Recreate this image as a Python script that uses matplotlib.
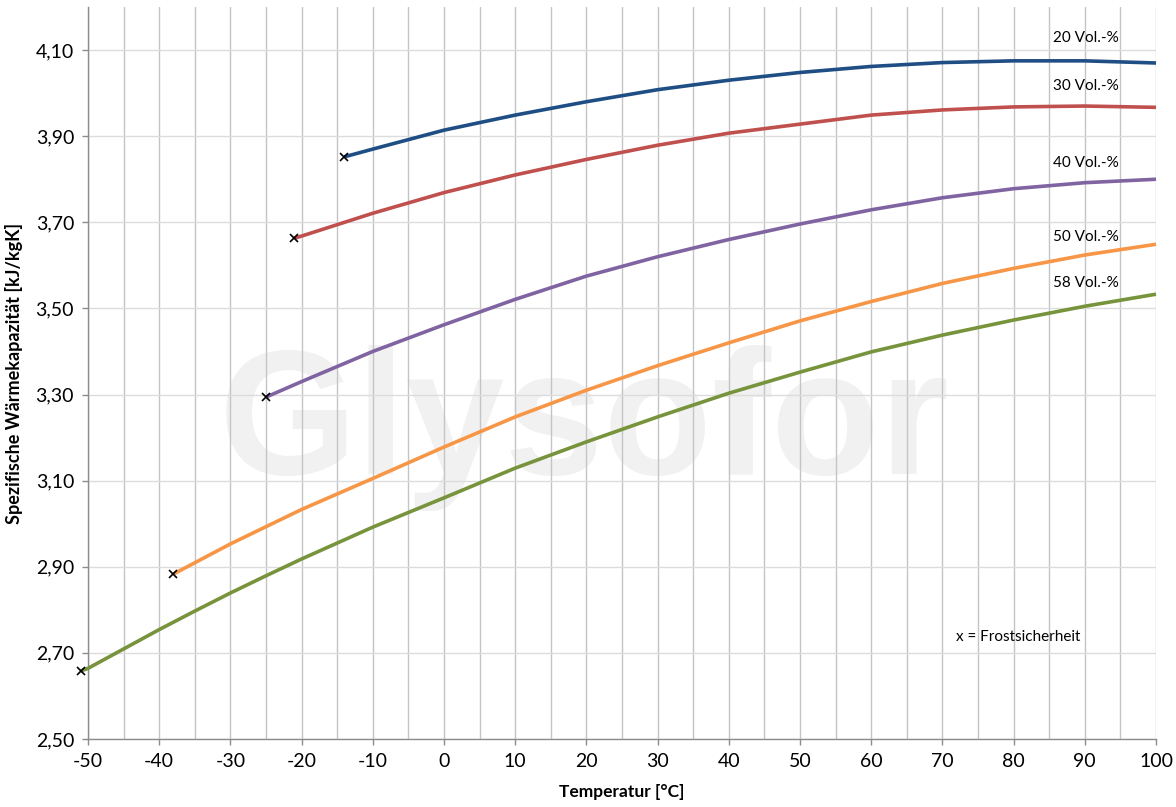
import matplotlib
matplotlib.use('Agg')
import matplotlib.pyplot as plt
from matplotlib.ticker import MultipleLocator, FixedLocator, FuncFormatter


#series (temperature in degC, cp in kJ/kgK)
temps_20 = [-14, -10, 0, 10, 20, 30, 40, 50, 60, 70, 80, 90, 100]
cp_20 = [3.852, 3.870, 3.914, 3.949, 3.980, 4.008, 4.030, 4.048, 4.062, 4.071, 4.075, 4.075, 4.070]

temps_30 = [-21, -20, -10, 0, 10, 20, 30, 40, 50, 60, 70, 80, 90, 100]
cp_30 = [3.663, 3.668, 3.721, 3.769, 3.810, 3.846, 3.879, 3.907, 3.928, 3.949, 3.961, 3.968, 3.970, 3.967]

temps_40 = [-25, -20, -10, 0, 10, 20, 30, 40, 50, 60, 70, 80, 90, 100]
cp_40 = [3.294, 3.330, 3.400, 3.462, 3.521, 3.575, 3.620, 3.660, 3.696, 3.729, 3.757, 3.778, 3.792, 3.800]

temps_50 = [-38, -30, -20, -10, 0, 10, 20, 30, 40, 50, 60, 70, 80, 90, 100]
cp_50 = [2.883, 2.953, 3.033, 3.105, 3.178, 3.248, 3.310, 3.367, 3.420, 3.471, 3.516, 3.558, 3.593, 3.624, 3.649]

temps_58 = [-51, -50, -45, -40, -35, -30, -25, -20, -10, 0, 10, 20, 30, 40, 50, 60, 70, 80, 90, 100]
cp_58 = [2.658, 2.664, 2.709, 2.754, 2.797, 2.839, 2.879, 2.918, 2.992, 3.060, 3.129, 3.190, 3.248, 3.303, 3.352, 3.399, 3.438, 3.473, 3.505, 3.533]

labels = ['20 Vol.-%', '30 Vol.-%', '40 Vol.-%', '50 Vol.-%', '58 Vol.-%']
label_y = [4.128, 4.016, 3.838, 3.666, 3.559]
colors = ['#1F4E85', '#C0504D', '#8064A2', '#F79646', '#77933C']
y_ticks = [2.5, 2.7, 2.9, 3.1, 3.3, 3.5, 3.7, 3.9, 4.1]

series = [(temps_20, cp_20), (temps_30, cp_30), (temps_40, cp_40),
          (temps_50, cp_50), (temps_58, cp_58)]


plt.rcParams['font.family'] = ['Lato', 'DejaVu Sans']
plt.rcParams['axes.unicode_minus'] = False

fig = plt.figure(figsize=(11.76, 8.07), dpi=100)
ax = fig.add_axes([0.0748, 0.0843, 0.9082, 0.907])


#watermark behind the grid
ax.text(0.465, 0.425, 'Glysofor', transform=ax.transAxes, fontsize=128,
        fontweight='bold', color='#f1f1f1', ha='center', va='center',
        family='Liberation Sans', zorder=0)


for (t, cp), col, lab, ly in zip(series, colors, labels, label_y):
    ax.plot(t, cp, color=col, linewidth=2.6, solid_capstyle='butt', zorder=3, clip_on=False)
    #frost point marker at the start of each curve
    ax.plot(t[0], cp[0], marker='x', color='black', markersize=6, markeredgewidth=1.2,
            linestyle='none', zorder=4, clip_on=False)
    ax.text(85.5, ly, lab, fontsize=11, va='center', ha='left', color='#000000')

ax.text(71.9, 2.7375, 'x = Frostsicherheit', fontsize=11, va='center', ha='left')


ax.set_xlim(-50, 100)
ax.set_ylim(2.5, 4.2)
ax.xaxis.set_major_locator(MultipleLocator(10))
ax.xaxis.set_minor_locator(MultipleLocator(5))
ax.yaxis.set_major_locator(FixedLocator(y_ticks))
ax.yaxis.set_major_formatter(FuncFormatter(lambda v, p: f'{v:.2f}'.replace('.', ',')))

ax.grid(True, axis='x', which='both', color='#c4c4c4', linewidth=1.0, zorder=1)
ax.grid(True, axis='y', which='major', color='#dcdcdc', linewidth=1.0, zorder=1)
ax.set_axisbelow(True)

for s in ['top', 'right']:
    ax.spines[s].set_visible(False)
for s in ['left', 'bottom']:
    ax.spines[s].set_color('#8c8c8c')
    ax.spines[s].set_linewidth(1.0)

ax.tick_params(axis='both', which='major', direction='out', length=4, width=1.0,
               color='#8c8c8c', labelsize=14, pad=6)
ax.tick_params(axis='x', which='minor', length=0)

ax.set_xlabel('Temperatur [°C]', fontsize=12.5, fontweight='bold', labelpad=10)
ax.set_ylabel('Spezifische Wärmekapazität [kJ/kgK]', fontsize=13, fontweight='bold', labelpad=9)

plt.savefig('out.png', dpi=100)
